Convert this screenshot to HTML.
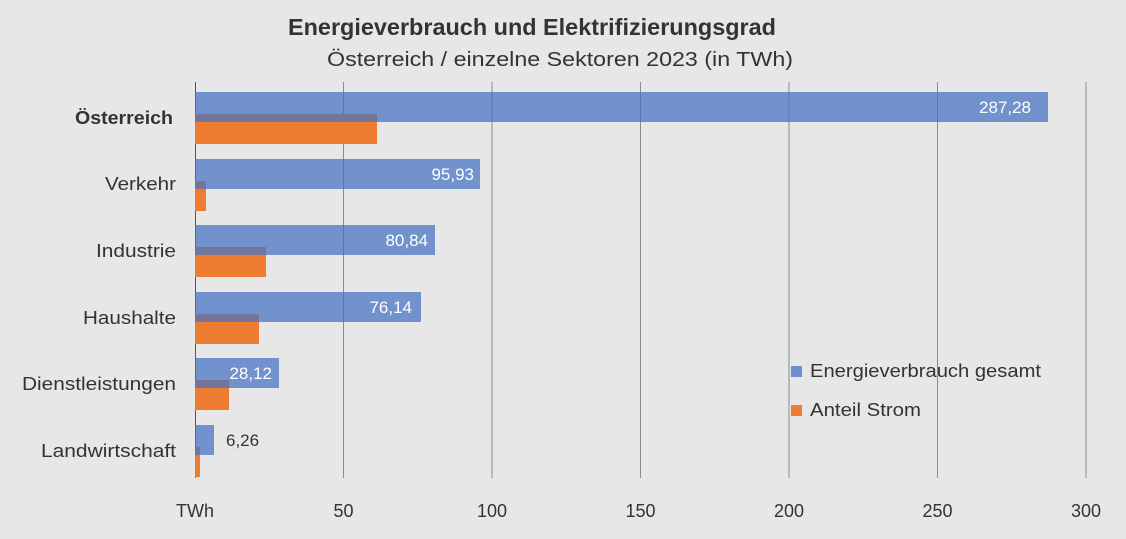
<!DOCTYPE html>
<html><head><style>body{margin:0;background:#e7e7e7}</style></head><body>
<svg width="1126" height="534" xmlns="http://www.w3.org/2000/svg" font-family="Liberation Sans, sans-serif">
<rect width="1126" height="534" fill="#e7e7e7"/>
<text x="288" y="35" font-size="23" font-weight="bold" fill="#333" textLength="488" lengthAdjust="spacingAndGlyphs">Energieverbrauch und Elektrifizierungsgrad</text>
<text x="327" y="66" font-size="20" fill="#333" textLength="466" lengthAdjust="spacingAndGlyphs">Österreich / einzelne Sektoren 2023 (in TWh)</text>
<g stroke="#8a8a8a" stroke-width="1">
<line x1="343.5" y1="82" x2="343.5" y2="478"/><line x1="492" y1="82" x2="492" y2="478"/>
<line x1="640.5" y1="82" x2="640.5" y2="478"/><line x1="789" y1="82" x2="789" y2="478"/>
<line x1="937.5" y1="82" x2="937.5" y2="478"/><line x1="1086" y1="82" x2="1086" y2="478"/>
</g>
<line x1="195.5" y1="82" x2="195.5" y2="478" stroke="#555"/>
<g fill="#ed7d31">
<rect x="195" y="114" width="182" height="30"/>
<rect x="195" y="181" width="11" height="30"/>
<rect x="195" y="247" width="71" height="30"/>
<rect x="195" y="314" width="64" height="30"/>
<rect x="195" y="380" width="34" height="30"/>
<rect x="195" y="447" width="5" height="30"/>
</g>
<g fill="#4472c4" fill-opacity="0.72">
<rect x="195" y="92" width="853" height="30"/>
<rect x="195" y="159" width="285" height="30"/>
<rect x="195" y="225" width="240" height="30"/>
<rect x="195" y="292" width="226" height="30"/>
<rect x="195" y="358" width="84" height="30"/>
<rect x="195" y="425" width="19" height="30"/>
</g>
<g font-size="17" fill="#fff" text-anchor="end">
<text x="1031" y="113">287,28</text>
<text x="474" y="180">95,93</text>
<text x="428" y="246">80,84</text>
<text x="412" y="313">76,14</text>
<text x="272" y="379">28,12</text>
</g>
<text x="226" y="446" font-size="17" fill="#333">6,26</text>
<g font-size="18" fill="#333" lengthAdjust="spacingAndGlyphs">
<text x="75" y="124" font-weight="bold" textLength="98" lengthAdjust="spacingAndGlyphs">Österreich</text>
<text x="105" y="190" textLength="71" lengthAdjust="spacingAndGlyphs">Verkehr</text>
<text x="96" y="257" textLength="80" lengthAdjust="spacingAndGlyphs">Industrie</text>
<text x="83" y="324" textLength="93" lengthAdjust="spacingAndGlyphs">Haushalte</text>
<text x="22" y="390" textLength="154" lengthAdjust="spacingAndGlyphs">Dienstleistungen</text>
<text x="41" y="457" textLength="135" lengthAdjust="spacingAndGlyphs">Landwirtschaft</text>
</g>
<g font-size="18" fill="#333" text-anchor="middle">
<text x="195" y="517">TWh</text><text x="343.5" y="517">50</text><text x="492" y="517">100</text>
<text x="640.5" y="517">150</text><text x="789" y="517">200</text><text x="937.5" y="517">250</text><text x="1086" y="517">300</text>
</g>
<rect x="791" y="366" width="11" height="11" fill="#6d8fd2"/>
<text x="810" y="377" font-size="18" fill="#333" textLength="231" lengthAdjust="spacingAndGlyphs">Energieverbrauch gesamt</text>
<rect x="791" y="405" width="11" height="11" fill="#ed7d31"/>
<text x="810" y="416" font-size="18" fill="#333" textLength="111" lengthAdjust="spacingAndGlyphs">Anteil Strom</text>
</svg>
</body></html>
